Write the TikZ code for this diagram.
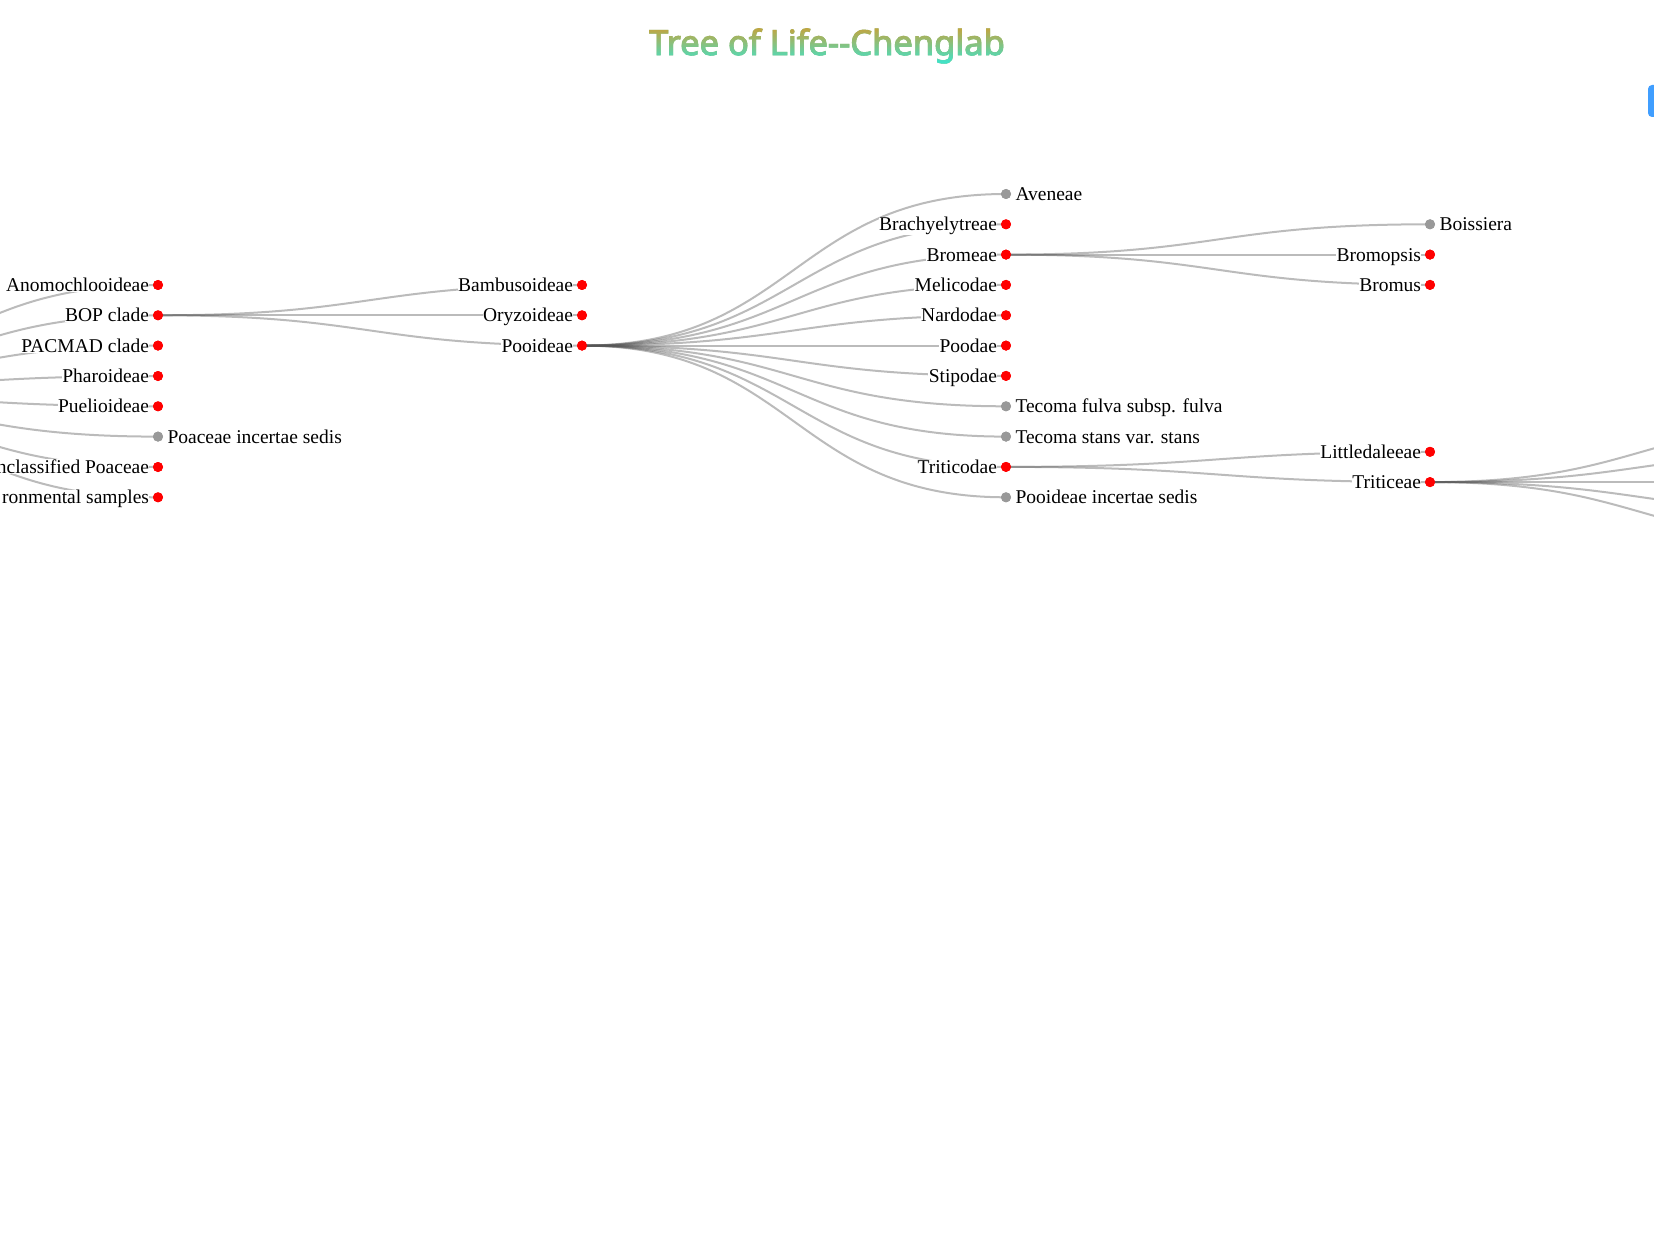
\documentclass[tikz,border=0pt]{standalone}
\usepackage{fontspec}
\setmainfont{Liberation Serif}
\newfontfamily\titlefont{Noto Sans}[AutoFakeBold=2.6]
\usetikzlibrary{calc,fadings}
\definecolor{linkc}{HTML}{555555}
\definecolor{dotred}{HTML}{FF0000}
\definecolor{dotgray}{HTML}{999999}
\definecolor{titlec}{HTML}{8EC283}
\definecolor{titletop}{HTML}{C9A23A}
\definecolor{titlebot}{HTML}{34E8D6}
\definecolor{btnblue}{HTML}{409EFF}
\newcommand\titlestyle{\titlefont\bfseries\fontsize{34.5}{40}\selectfont}
\newcommand\lnk[2]{\draw[linkline] (#1.center) .. controls ($(#1.center)!0.5!(#1.center -| #2.center)$) and ($(#2.center)!0.5!(#2.center -| #1.center)$) .. (#2.center);}
\newcommand\lblleft[2]{\node[lblL] (#1-t) at ([xshift=-8.5pt,yshift=-6.5pt]#1.center) {#2};}
\newcommand\lblright[2]{\node[lblR] (#1-t) at ([xshift=9pt,yshift=-6.5pt]#1.center) {#2};}
\begin{tikzfadingfrompicture}[name=titlefade]
  \node[text=transparent!0, inner sep=0pt, font=\titlestyle] (fadetext) at (0,0) {Tree of Life-\kern0pt-Chenglab};
\end{tikzfadingfrompicture}
\begin{document}
\begin{tikzpicture}[x=1pt,y=-1pt,
  linkline/.style={draw=linkc, draw opacity=0.4, line width=2pt},
  lblL/.style={anchor=base east, fill=white, inner sep=0.3pt, font=\fontsize{19.5}{23}\selectfont},
  lblR/.style={anchor=base west, fill=white, inner sep=0.3pt, font=\fontsize{19.5}{23}\selectfont},
  reddot/.style={circle, fill=dotred, minimum size=10pt, inner sep=0pt},
  graydot/.style={circle, fill=dotgray, minimum size=10pt, inner sep=0pt}]
\path[use as bounding box] (0,0) rectangle (1654,1241);
\clip (0,0) rectangle (1654,1241);
\fill[white] (0,0) rectangle (1654,1241);

% title
\node[anchor=base, text=titlec, inner sep=0pt, font=\titlestyle] (title) at (827,55) {Tree of Life-\kern0pt-Chenglab};
\shade[path fading=titlefade, fit fading=false, fading transform={shift={(title.center)}},
  top color=titletop, bottom color=titlebot]
  ([yshift=2pt]title.north west) rectangle ([yshift=-2pt]title.south east);

% cut-off blue button at the right edge
\fill[btnblue, rounded corners=4pt] (1648,85) rectangle (1720,117);

% off-canvas ends
\coordinate (root) at (-266,391.2);
\coordinate (t1) at (1854,421.4);
\coordinate (t2) at (1854,451.8);
\coordinate (t3) at (1854,482.1);
\coordinate (t4) at (1854,512.4);
\coordinate (t5) at (1854,542.7);

% level 1
\node[reddot] (anomo) at (158,285) {};
\node[reddot] (bop) at (158,315.3) {};
\node[reddot] (pacmad) at (158,345.6) {};
\node[reddot] (pharo) at (158,376) {};
\node[reddot] (puelio) at (158,406.3) {};
\node[graydot] (poinc) at (158,436.6) {};
\node[reddot] (uncl) at (158,467) {};
\node[reddot] (env) at (158,497.3) {};

% level 2
\node[reddot] (bambu) at (582,285) {};
\node[reddot] (oryzo) at (582,315.3) {};
\node[reddot] (pooid) at (582,345.6) {};

% level 3
\node[graydot] (avene) at (1006,194) {};
\node[reddot] (brachy) at (1006,224.3) {};
\node[reddot] (brome) at (1006,254.6) {};
\node[reddot] (melic) at (1006,284.9) {};
\node[reddot] (nardo) at (1006,315.3) {};
\node[reddot] (pood) at (1006,345.6) {};
\node[reddot] (stipo) at (1006,375.9) {};
\node[graydot] (tfulva) at (1006,406.3) {};
\node[graydot] (tstans) at (1006,436.6) {};
\node[reddot] (tritico) at (1006,466.9) {};
\node[graydot] (pooinc) at (1006,497.3) {};

% level 4
\node[graydot] (boiss) at (1430,224.3) {};
\node[reddot] (bromop) at (1430,254.6) {};
\node[reddot] (bromus) at (1430,284.9) {};
\node[reddot] (little) at (1430,451.8) {};
\node[reddot] (tritice) at (1430,482.1) {};

% links
\foreach \c in {anomo,bop,pacmad,pharo,puelio,poinc,uncl,env}{\lnk{root}{\c}}
\foreach \c in {bambu,oryzo,pooid}{\lnk{bop}{\c}}
\foreach \c in {avene,brachy,brome,melic,nardo,pood,stipo,tfulva,tstans,tritico,pooinc}{\lnk{pooid}{\c}}
\foreach \c in {boiss,bromop,bromus}{\lnk{brome}{\c}}
\foreach \c in {little,tritice}{\lnk{tritico}{\c}}
\foreach \c in {t1,t2,t3,t4,t5}{\lnk{tritice}{\c}}

% redraw dots above links
\foreach \n/\s in {anomo/dotred,bop/dotred,pacmad/dotred,pharo/dotred,puelio/dotred,poinc/dotgray,uncl/dotred,env/dotred,
  bambu/dotred,oryzo/dotred,pooid/dotred,
  avene/dotgray,brachy/dotred,brome/dotred,melic/dotred,nardo/dotred,pood/dotred,stipo/dotred,tfulva/dotgray,tstans/dotgray,tritico/dotred,pooinc/dotgray,
  boiss/dotgray,bromop/dotred,bromus/dotred,little/dotred,tritice/dotred}{\fill[\s] (\n.center) circle (5pt);}

% labels
\lblleft{anomo}{Anomochlooideae}
\lblleft{bop}{BOP clade}
\lblleft{pacmad}{PACMAD clade}
\lblleft{pharo}{Pharoideae}
\lblleft{puelio}{Puelioideae}
\lblright{poinc}{Poaceae incertae sedis}
\lblleft{uncl}{nclassified Poaceae}
\lblleft{env}{ronmental samples}

\lblleft{bambu}{Bambusoideae}
\lblleft{oryzo}{Oryzoideae}
\lblleft{pooid}{Pooideae}

\lblright{avene}{Aveneae}
\lblleft{brachy}{Brachyelytreae}
\lblleft{brome}{Bromeae}
\lblleft{melic}{Melicodae}
\lblleft{nardo}{Nardodae}
\lblleft{pood}{Poodae}
\lblleft{stipo}{Stipodae}
\lblright{tfulva}{Tecoma fulva subsp. fulva}
\lblright{tstans}{Tecoma stans var. stans}
\lblleft{tritico}{Triticodae}
\lblright{pooinc}{Pooideae incertae sedis}

\lblright{boiss}{Boissiera}
\lblleft{bromop}{Bromopsis}
\lblleft{bromus}{Bromus}
\lblleft{little}{Littledaleeae}
\lblleft{tritice}{Triticeae}
\end{tikzpicture}
\end{document}
